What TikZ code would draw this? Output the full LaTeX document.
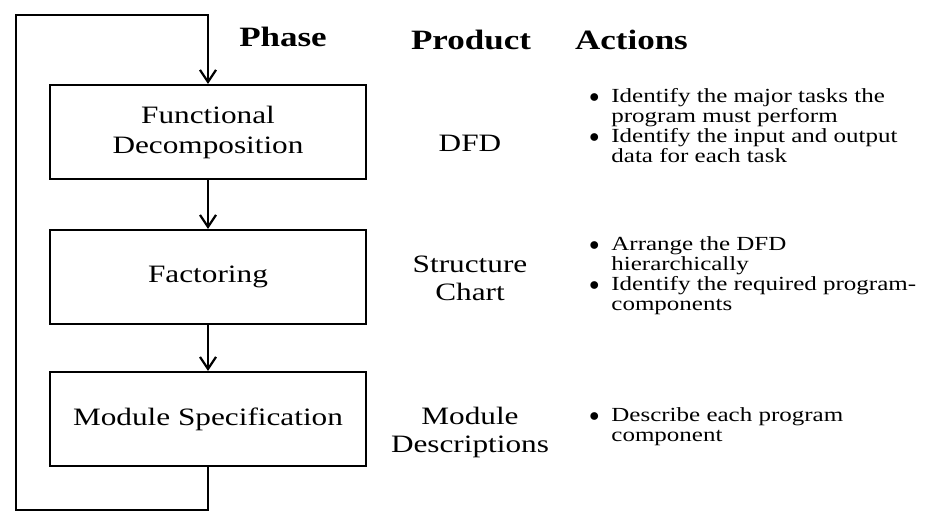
\documentclass[tikz,border=0pt]{standalone}
\usepackage{fontspec}
\setmainfont{Liberation Serif}[FakeStretch=1.25]
\usepackage{tikz}
\usetikzlibrary{arrows.meta,positioning}
\newcommand{\actbul}{\makebox[11pt][l]{$\bullet$}}
\newcommand{\actgap}{\hspace*{11pt}}
\newcommand{\actfont}{\fontsize{10}{10}\selectfont}

\begin{document}
\begin{tikzpicture}[x=0.5pt,y=-0.5pt]
	\tikzstyle{phase}=[rectangle, draw, line width=1.1pt, minimum width=158pt, minimum height=47pt, align=center, font=\fontsize{12.5}{15}\selectfont]
	\tikzstyle{head}=[anchor=base, font=\fontsize{14}{16}\selectfont\bfseries]
	\tikzstyle{prod}=[align=center, font=\fontsize{12.5}{14}\selectfont]
	\tikzstyle{act}=[anchor=north west, inner sep=0pt, font=\actfont]
	\tikzstyle{flow}=[line width=1.1pt, -{Straight Barb[length=6pt,width=8pt]}]
	\useasboundingbox (0,0) rectangle (925,518);
	\node [head] (hphase) at (283,47) {Phase};
	\node [head] (hprod) at (471,50) {Product};
	\node [head, anchor=base west] (hact) at (568,50) {Actions};
	\node [phase] (fd) at (208,132) {Functional\\Decomposition};
	\node [phase] (fa) at (208,277) {Factoring};
	\node [phase] (ms) at (208,419) {Module Specification};
	\node [prod] (dfd) at (470,143) {DFD};
	\node [prod] (sc) at (470,278) {Structure\\Chart};
	\node [prod] (md) at (470,432) {Module\\Descriptions};
	\node [act] (a1) at (589,88) {\begin{tabular}{@{}l@{}}
		\actbul Identify the major tasks the\\
		\actgap program must perform\\
		\actbul Identify the input and output\\
		\actgap data for each task
	\end{tabular}};
	\node [act] (a2) at (589,236) {\begin{tabular}{@{}l@{}}
		\actbul Arrange the DFD\\
		\actgap hierarchically\\
		\actbul Identify the required program-\\
		\actgap components
	\end{tabular}};
	\node [act] (a3) at (589,407) {\begin{tabular}{@{}l@{}}
		\actbul Describe each program\\
		\actgap component
	\end{tabular}};
	\coordinate (bl) at (16,510);
	\coordinate (tl) at (16,15);
	\draw [flow] (fd) -- (fa);
	\draw [flow] (fa) -- (ms);
	\draw [flow] (ms.south) -- (ms.south |- bl) -- (bl) -- (tl) -- (tl -| fd.north) -- (fd.north);
\end{tikzpicture}
\end{document}
